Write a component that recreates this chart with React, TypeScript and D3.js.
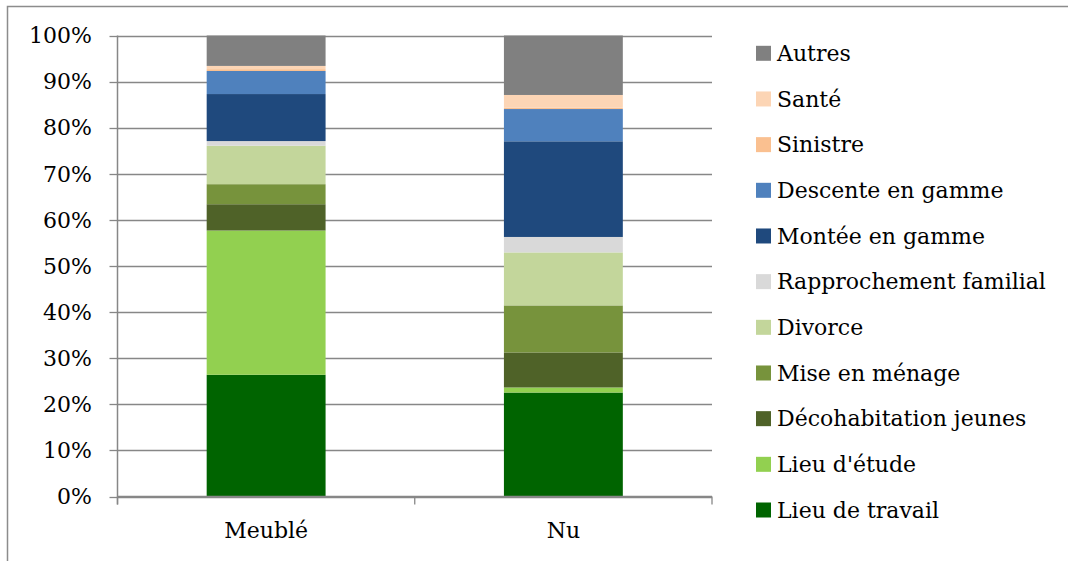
import React from "react";
import * as d3 from "d3";

const categories = ["Meublé", "Nu"];
const seriesNames = [
  "Lieu de travail",
  "Lieu d'étude",
  "Décohabitation jeunes",
  "Mise en ménage",
  "Divorce",
  "Rapprochement familial",
  "Montée en gamme",
  "Descente en gamme",
  "Sinistre",
  "Santé",
  "Autres",
];
// percentage values per series: [Meublé, Nu]
const lieuTravail = [26.4, 22.55];
const lieuEtude = [31.3, 1.1];
const decohabitation = [5.7, 7.6];
const miseEnMenage = [4.35, 10.2];
const divorce = [8.35, 11.5];
const rapprochement = [1.0, 3.35];
const monteeGamme = [10.2, 20.75];
const descenteGamme = [5.0, 7.0];
const sinistre = [0.4, 0.3];
const sante = [0.7, 2.75];
const autres = [6.6, 12.9];
const seriesValues = [
  lieuTravail,
  lieuEtude,
  decohabitation,
  miseEnMenage,
  divorce,
  rapprochement,
  monteeGamme,
  descenteGamme,
  sinistre,
  sante,
  autres,
];
const colors = [
  "#006400",
  "#92D050",
  "#4F6228",
  "#77933C",
  "#C3D69B",
  "#D9D9D9",
  "#1F497D",
  "#4F81BD",
  "#FAC090",
  "#FCD5B5",
  "#808080",
];
const yTicks = [0, 10, 20, 30, 40, 50, 60, 70, 80, 90, 100];

const FONT = "'DejaVu Serif', serif";
const FS = 22;
const GRID = "#878787";

export default function App() {
  const W = 1068;
  const H = 561;
  const x0 = 117.5;
  const x1 = 712;
  const y0 = 496.5;
  const y1 = 35.5;

  const x = d3.scaleBand<string>().domain(categories).range([x0, x1]).paddingInner(0.6).paddingOuter(0.3);
  const y = d3.scaleLinear().domain([0, 100]).range([y0, y1]);

  const rows = categories.map((c, i) => {
    const r: any = { cat: c };
    seriesNames.forEach((s, j) => (r[s] = seriesValues[j][i]));
    return r;
  });
  const stacked = d3.stack<any>().keys(seriesNames)(rows);
  const color = d3.scaleOrdinal<string, string>().domain(seriesNames).range(colors);

  const legendItems = seriesNames.slice().reverse();
  const legendY = d3.scalePoint<string>().domain(legendItems).range([53.3, 510]);

  const boundaries = [x0, ...categories.slice(1).map((c) => (x(c)! - (x.step() * x.paddingInner()) / 2 + 0)), x1];

  return (
    <svg width={W} height={H} style={{ position: "absolute", left: 0, top: 0, background: "#fff" }}>
      <rect x={0} y={0} width={W} height={H} fill="#fff" />
      <rect x={7.5} y={6.5} width={W + 10} height={H + 10} fill="none" stroke="#8c8c8c" strokeWidth={1.5} />
      {/* gridlines */}
      {yTicks.map((t) => (
        <line key={"g" + t} x1={x0} x2={x1} y1={Math.round(y(t)) + 0.5} y2={Math.round(y(t)) + 0.5} stroke={GRID} strokeWidth={1.3} />
      ))}
      {/* bars */}
      {stacked.map((layer) => (
        <g key={layer.key} fill={color(layer.key)}>
          {layer.map((d: any, i: number) => (
            <rect
              key={i}
              x={x(d.data.cat)!}
              y={y(d[1])}
              width={x.bandwidth()}
              height={Math.max(0, y(d[0]) - y(d[1]))}
            />
          ))}
        </g>
      ))}
      {/* y axis */}
      <line x1={x0} x2={x0} y1={y1} y2={y0 + 8} stroke={GRID} strokeWidth={1.5} />
      {yTicks.map((t) => (
        <g key={"t" + t}>
          <line x1={x0 - 8} x2={x0} y1={Math.round(y(t)) + 0.5} y2={Math.round(y(t)) + 0.5} stroke={GRID} strokeWidth={1.3} />
          <text x={92} y={y(t)} dy="0.35em" textAnchor="end" fontFamily={FONT} fontSize={FS} fill="#000">
            {t}%
          </text>
        </g>
      ))}
      {/* x axis */}
      <line x1={x0} x2={x1} y1={y0} y2={y0} stroke={GRID} strokeWidth={1.5} />
      {boundaries.map((b, i) => (
        <line key={"b" + i} x1={b} x2={b} y1={y0} y2={y0 + 8} stroke={GRID} strokeWidth={1.3} />
      ))}
      {categories.map((c) => (
        <text key={c} x={x(c)! + x.bandwidth() / 2} y={530} dy="0.35em" textAnchor="middle" fontFamily={FONT} fontSize={FS} fill="#000">
          {c}
        </text>
      ))}
      {/* legend */}
      {legendItems.map((s) => (
        <g key={s}>
          <rect x={756} y={legendY(s)! - 7.5} width={15} height={15} fill={color(s)} />
          <text x={777} y={legendY(s)!} dy="0.35em" fontFamily={FONT} fontSize={FS} fill="#000">
            {s}
          </text>
        </g>
      ))}
    </svg>
  );
}
